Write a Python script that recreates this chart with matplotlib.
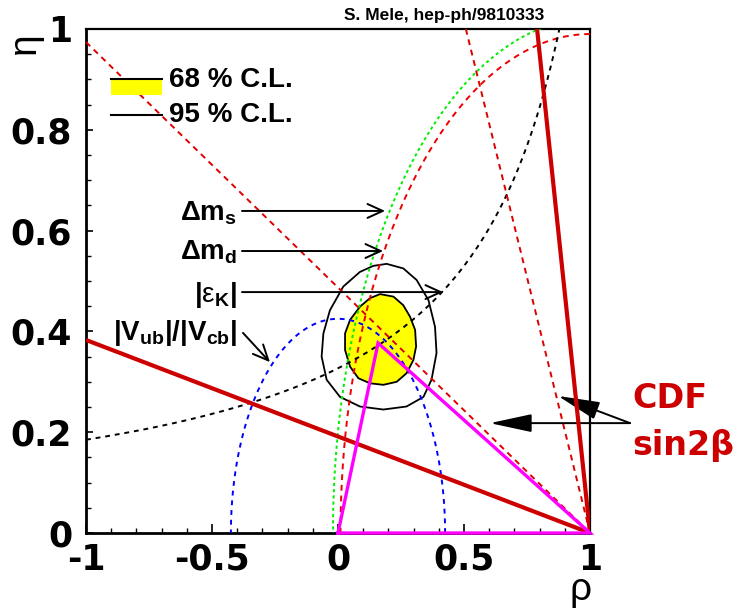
import numpy as np
import matplotlib
matplotlib.use('Agg')
import matplotlib.pyplot as plt
from matplotlib.patches import Polygon, Rectangle
from matplotlib.ticker import MultipleLocator, FixedLocator, FixedFormatter

plt.rcParams['mathtext.fontset'] = 'custom'
plt.rcParams['mathtext.rm'] = 'Liberation Sans'
plt.rcParams['mathtext.bf'] = 'Liberation Sans:bold'
plt.rcParams['mathtext.it'] = 'Liberation Sans:italic'
plt.rcParams['mathtext.sf'] = 'Liberation Sans'
plt.rcParams['axes.unicode_minus'] = False

# ---------------- data ----------------
x_ticks = [-1, -0.5, 0, 0.5, 1]
x_tick_labels = ['-1', '-0.5', '0', '0.5', '1']
y_ticks = [0, 0.2, 0.4, 0.6, 0.8, 1]
y_tick_labels = ['0', '0.2', '0.4', '0.6', '0.8', '1']

# constraint curves (parameters)
dmd_radius = 0.99          # Delta m_d circle, centred on (1, 0)
dms_radius = 1.02          # Delta m_s circle, centred on (1, 0)
vub_radius = 0.425         # |Vub|/|Vcb| circle, centred on (0, 0)
epsk_A, epsk_B = 0.4265, 1.305   # eps_K hyperbola: eta = A / (B - rho)

# CDF sin2beta lines through (1,0): slopes tan(beta)
sin2b_central_slopes = [0.487, 2.03]
sin2b_bound_slopes = [0.1915, 4.76]

# unitarity triangle apex
apex_rho, apex_eta = 0.159, 0.377

# 68% C.L. contour boundary points (rho, eta)
c68_rho = [0.167, 0.220, 0.259, 0.286, 0.306, 0.310, 0.299, 0.272, 0.233, 0.180,
           0.127, 0.081, 0.048, 0.028, 0.028, 0.048, 0.087, 0.127]
c68_eta = [0.474, 0.469, 0.452, 0.429, 0.403, 0.370, 0.343, 0.317, 0.300, 0.294,
           0.297, 0.307, 0.330, 0.363, 0.396, 0.423, 0.449, 0.466]
# 95% C.L. contour boundary points
c95_rho = [0.193, 0.259, 0.312, 0.359, 0.385, 0.391, 0.371, 0.339, 0.272, 0.180,
           0.087, 0.008, -0.045, -0.065, -0.058, -0.032, 0.021, 0.087, 0.140]
c95_eta = [0.534, 0.525, 0.502, 0.462, 0.409, 0.357, 0.304, 0.270, 0.251, 0.245,
           0.251, 0.270, 0.304, 0.350, 0.396, 0.442, 0.489, 0.518, 0.530]

# ---------------- figure ----------------
W, H = 745, 614
fig = plt.figure(figsize=(W / 100, H / 100), dpi=100)
ax = fig.add_axes([86 / W, 81 / H, 504 / W, 504 / H])
ax.set_xlim(-1, 1)
ax.set_ylim(0, 1)

red = '#cc0000'

# contours
ax.add_patch(Polygon(np.column_stack([c95_rho, c95_eta]), closed=True,
                     facecolor='none', edgecolor='black', lw=1.3, zorder=2))
ax.add_patch(Polygon(np.column_stack([c68_rho, c68_eta]), closed=True,
                     facecolor='#ffff00', edgecolor='black', lw=1.3, zorder=2))

# circles
th = np.linspace(np.pi / 2, np.pi, 400)
ax.plot(1 + dmd_radius * np.cos(th), dmd_radius * np.sin(th), color='#ee0000',
        lw=1.4, ls=(0, (3, 2.5)), zorder=3)
ax.plot(1 + dms_radius * np.cos(th), dms_radius * np.sin(th), color='#00ee00',
        lw=1.4, ls=(0, (1.6, 1.6)), zorder=3)
thb = np.linspace(0, np.pi, 400)
ax.plot(vub_radius * np.cos(thb), vub_radius * np.sin(thb), color='#0000ff',
        lw=1.4, ls=(0, (2.5, 2.5)), zorder=3)

# eps_K hyperbola
r = np.linspace(-1, epsk_B - epsk_A, 400)
ax.plot(r, epsk_A / (epsk_B - r), color='black', lw=1.4, ls=(0, (2.5, 2.5)), zorder=3)

# sin2beta lines
for s in sin2b_central_slopes:
    r0 = 1 - min(2.0, 1.0 / s)
    ax.plot([r0, 1], [s * (1 - r0), 0], color='#dd0000', lw=1.4,
            ls=(0, (3, 2.5)), zorder=3)
for s in sin2b_bound_slopes:
    r0 = 1 - min(2.0, 1.0 / s)
    ax.plot([r0, 1], [s * (1 - r0), 0], color=red, lw=3.0, zorder=4,
            solid_capstyle='butt')

# unitarity triangle
ax.plot([0, 1, apex_rho, 0], [0, 0, apex_eta, 0], color='#ff00ff', lw=2.4,
        zorder=6, clip_on=False, solid_joinstyle='miter')

# legend
ax.add_patch(Rectangle((-0.901, 0.869), 0.203, 0.032, facecolor='#ffff00',
                       edgecolor='none', zorder=5))
ax.plot([-0.901, -0.698], [0.901, 0.901], color='black', lw=1.5, zorder=6)
ax.plot([-0.901, -0.698], [0.829, 0.829], color='black', lw=1.5, zorder=6)
lfont = dict(family='Liberation Sans', weight='bold', fontsize=20)
ax.text(-0.671, 0.899, '68 % C.L.', va='center', ha='left', zorder=7, **lfont)
ax.text(-0.671, 0.829, '95 % C.L.', va='center', ha='left', zorder=7, **lfont)

# labels with arrows
tfs = 20
ax.text(-0.401, 0.621, r'$\mathbf{\Delta m_s}$', ha='right', va='baseline', fontsize=tfs)
ax.text(-0.401, 0.5417, r'$\mathbf{\Delta m_d}$', ha='right', va='baseline', fontsize=tfs)
ax.text(-0.401, 0.458, r'$\mathbf{|}\mathrm{\varepsilon}_\mathbf{K}\mathbf{|}$', ha='right',
        va='baseline', fontsize=tfs)
ax.text(-0.401, 0.383, r'$\mathbf{|V_{ub}|/|V_{cb}|}$', ha='right', va='baseline',
        fontsize=tfs)

aprops = dict(arrowstyle='->,head_length=0.55,head_width=0.25', lw=1.4, color='black',
              shrinkA=0, shrinkB=0, mutation_scale=20)
ax.annotate('', xy=(0.187, 0.639), xytext=(-0.381, 0.639), arrowprops=aprops)
ax.annotate('', xy=(0.179, 0.5595), xytext=(-0.381, 0.5595), arrowprops=aprops)
ax.annotate('', xy=(0.417, 0.478), xytext=(-0.381, 0.478), arrowprops=aprops)
ax.annotate('', xy=(-0.270, 0.339), xytext=(-0.377, 0.397), arrowprops=aprops)

cprops = dict(arrowstyle='-|>,head_length=1.3,head_width=0.28', lw=1.4, color='black',
              shrinkA=0, shrinkB=0, mutation_scale=20)
ax.annotate('', xy=(0.603, 0.218), xytext=(1.159, 0.218), arrowprops=cprops,
            annotation_clip=False)
ax.annotate('', xy=(0.873, 0.272), xytext=(1.159, 0.218), arrowprops=cprops,
            annotation_clip=False)

fig.text(632 / W, (H - 408) / H, 'CDF', color=red, family='DejaVu Sans',
         weight='bold', fontsize=24, ha='left', va='baseline')
fig.text(632 / W, (H - 455) / H, 'sin2β', color=red, family='DejaVu Sans',
         weight='bold', fontsize=24, ha='left', va='baseline')

fig.text(444 / W, (H - 20) / H, 'S. Mele, hep-ph/9810333', family='Liberation Sans',
         weight='bold', fontsize=12.5, ha='center', va='baseline')

fig.text(25 / W, (H - 43) / H, 'η', rotation=90, family='Liberation Sans',
         fontsize=28, ha='center', va='center')
fig.text(580 / W, (H - 590) / H, 'ρ', family='Liberation Sans',
         fontsize=28, ha='center', va='center')

# axes styling
ax.xaxis.set_major_locator(FixedLocator(x_ticks))
ax.xaxis.set_major_formatter(FixedFormatter(x_tick_labels))
ax.yaxis.set_major_locator(FixedLocator(y_ticks))
ax.yaxis.set_major_formatter(FixedFormatter(y_tick_labels))
ax.xaxis.set_minor_locator(MultipleLocator(0.1))
ax.yaxis.set_minor_locator(MultipleLocator(0.05))
ax.tick_params(which='both', direction='in', top=False, right=False, color='black')
ax.tick_params(axis='x', which='major', length=6.5, width=1.2, pad=7)
ax.tick_params(axis='y', which='major', length=5, width=1.2, pad=10)
ax.tick_params(which='minor', length=3.5, width=1.0)
for lbl in ax.get_xticklabels() + ax.get_yticklabels():
    lbl.set_fontfamily('DejaVu Sans')
    lbl.set_fontweight('bold')
    lbl.set_fontsize(25)
for side in ['left', 'bottom']:
    ax.spines[side].set_linewidth(2.0)
for side in ['top', 'right']:
    ax.spines[side].set_linewidth(1.6)

fig.savefig('out.png', dpi=100)
